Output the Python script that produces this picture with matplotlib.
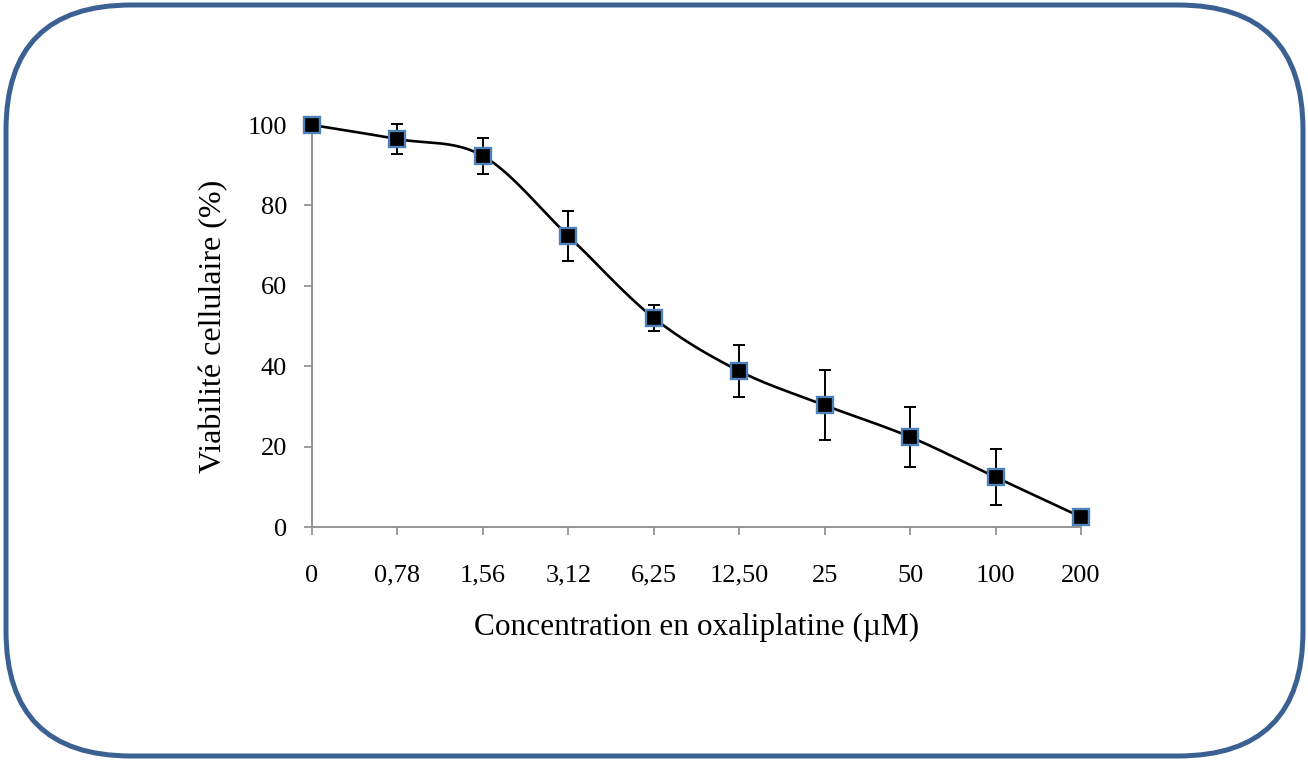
import numpy as np
import matplotlib.pyplot as plt
from matplotlib.patches import FancyBboxPatch

conc_labels = ['0', '0,78', '1,56', '3,12', '6,25', '12,50', '25', '50', '100', '200']
viability = [100, 96.5, 92.3, 72.4, 52.0, 38.8, 30.3, 22.4, 12.4, 2.5]
errors = [0, 3.8, 4.4, 6.2, 3.2, 6.4, 8.7, 7.5, 7.0, 2.0]

plt.rcParams['font.family'] = ['Liberation Serif', 'DejaVu Serif']


def smooth(x, y, n=40):
    # catmull-rom like excel smoothed line
    x = np.asarray(x, float)
    y = np.asarray(y, float)
    px = np.concatenate([[x[0]], x, [x[-1]]])
    py = np.concatenate([[y[0]], y, [y[-1]]])
    xs, ys = [], []
    t = np.linspace(0, 1, n)
    for i in range(1, len(px) - 2):
        p0, p1, p2, p3 = [np.array([px[j], py[j]]) for j in (i - 1, i, i + 1, i + 2)]
        c1 = p1 + (p2 - p0) / 6
        c2 = p2 - (p3 - p1) / 6
        b = ((1 - t) ** 3)[:, None] * p1 + (3 * (1 - t) ** 2 * t)[:, None] * c1 \
            + (3 * (1 - t) * t ** 2)[:, None] * c2 + (t ** 3)[:, None] * p2
        xs.extend(b[:, 0])
        ys.extend(b[:, 1])
    return np.array(xs), np.array(ys)


fig = plt.figure(figsize=(13.08, 7.61), dpi=100)

# rounded frame
bg = fig.add_axes([0, 0, 1, 1])
bg.set_xlim(0, 1308)
bg.set_ylim(0, 761)
bg.axis('off')
bg.add_patch(FancyBboxPatch((6, 5), 1297, 751,
                            boxstyle='round,pad=0,rounding_size=125',
                            fc='white', ec='#3a6192', lw=3.6))

ax = fig.add_axes([312 / 1308, 1 - 527 / 761, 769 / 1308, 402 / 761])
ax.patch.set_alpha(0)
xi = np.arange(len(conc_labels))
sx, sy = smooth(xi, viability)
ax.plot(sx, sy, color='black', lw=1.9, zorder=2)
ax.errorbar(xi[1:], viability[1:], yerr=errors[1:], fmt='none', ecolor='black',
            elinewidth=1.4, capsize=4.5, capthick=1.4, zorder=3, clip_on=False)
ax.plot(xi, viability, ls='none', marker='s', ms=11, mfc='black', mec='#4f81bd',
        mew=1.7, zorder=4, clip_on=False)

ax.set_xlim(0, 9)
ax.set_ylim(0, 100)
ax.set_xticks(xi)
ax.set_xticklabels(conc_labels)
ax.set_yticks([0, 20, 40, 60, 80, 100])
for s in ['top', 'right']:
    ax.spines[s].set_visible(False)
for s in ['left', 'bottom']:
    ax.spines[s].set_color('#8c8c8c')
    ax.spines[s].set_linewidth(1.3)
ax.tick_params(axis='both', colors='#8c8c8c', length=6, width=1.2, labelcolor='black',
               labelsize=19)
ax.tick_params(axis='x', pad=21)
ax.tick_params(axis='y', pad=12)
ax.set_xlabel('Concentration en oxaliplatine (µM)', fontsize=22.5, labelpad=19)
ax.set_ylabel('Viabilité cellulaire (%)', fontsize=23, labelpad=14)

fig.savefig('out.png', dpi=100)
